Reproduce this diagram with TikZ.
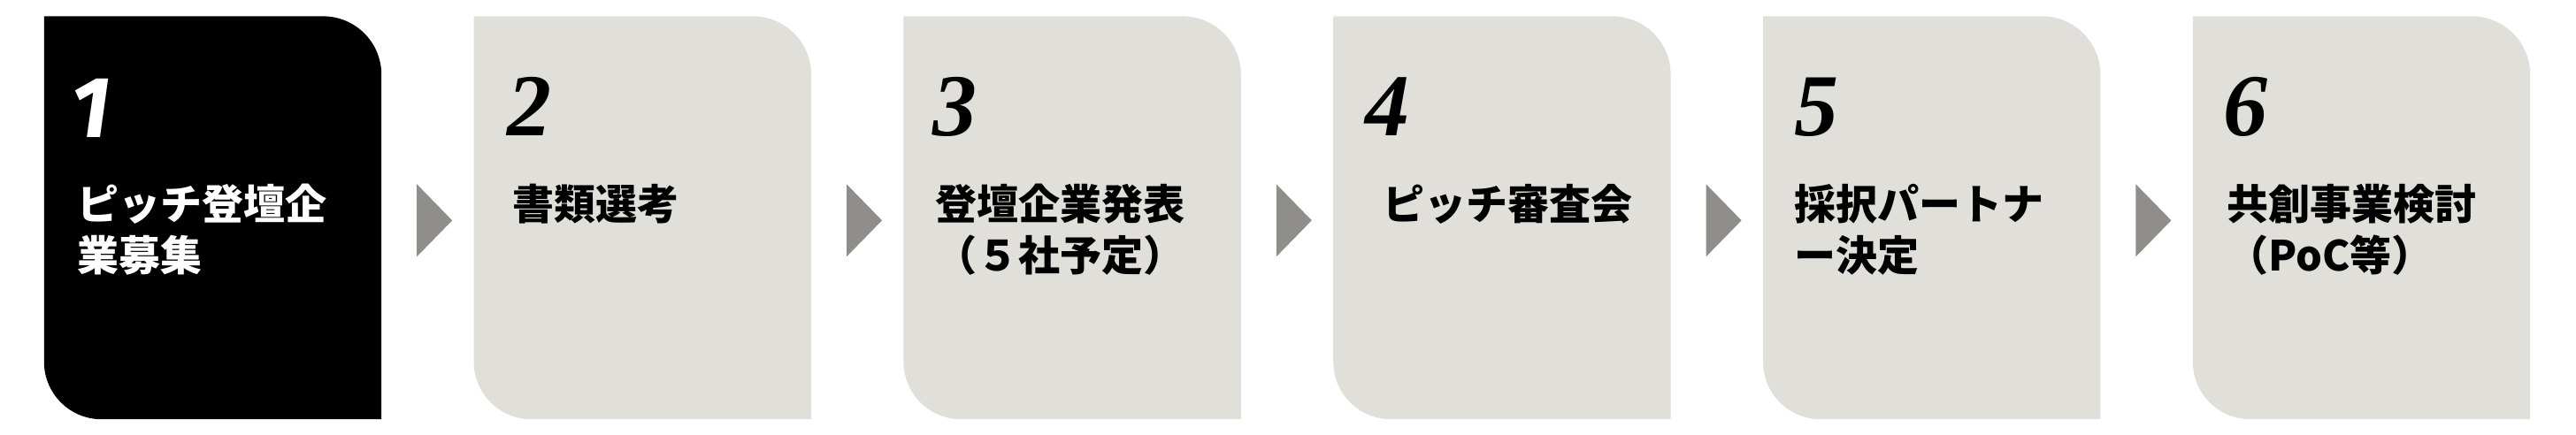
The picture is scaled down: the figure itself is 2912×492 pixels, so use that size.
\documentclass[tikz,border=0pt]{standalone}
\usepackage{fontspec}
\newfontfamily\jpfont{Noto Sans CJK JP}
\newfontfamily\numfont{Liberation Serif}
\newfontfamily\onefont{Fira Sans}
\definecolor{boxgray}{RGB}{224,223,218}
\definecolor{arrowgray}{RGB}{143,142,138}
\tikzset{
  boxframe/.style={rectangle, draw=none, inner sep=0pt, minimum width=381pt, minimum height=455.4pt},
  steptext/.style={anchor=base west, inner sep=0pt, align=left, font=\jpfont\bfseries\fontsize{47}{58}\selectfont},
  stepnum/.style={anchor=base west, inner sep=0pt, font=\numfont\bfseries\itshape\fontsize{100}{100}\selectfont},
  firstnum/.style={anchor=base west, inner sep=0pt, font=\onefont\bfseries\itshape\fontsize{98}{98}\selectfont},
}
\newcommand{\stepshape}[2]{%
  \fill[#2] (#1.north west) -- ([xshift=-66pt]#1.north east)
    arc[start angle=90, end angle=0, radius=66pt] -- (#1.south east)
    -- ([xshift=65pt]#1.south west)
    arc[start angle=270, end angle=180, radius=65pt] -- cycle;}
\newcommand{\steparrow}[1]{%
  \fill[arrowgray] ([xshift=40pt,yshift=38pt]#1.east) -- ([xshift=80pt,yshift=-3pt]#1.east)
    -- ([xshift=40pt,yshift=-44pt]#1.east) -- cycle;}
\begin{document}
\begin{tikzpicture}[x=1pt,y=1pt]
\useasboundingbox (0,0) rectangle (2912,492);
% boxes
\node[boxframe] (box1) at (240.5,245.7) {};
\node[boxframe] (box2) at (726.3,245.7) {};
\node[boxframe] (box3) at (1212.1,245.7) {};
\node[boxframe] (box4) at (1697.9,245.7) {};
\node[boxframe] (box5) at (2183.7,245.7) {};
\node[boxframe] (box6) at (2669.5,245.7) {};
\stepshape{box1}{black}
\stepshape{box2}{boxgray}
\stepshape{box3}{boxgray}
\stepshape{box4}{boxgray}
\stepshape{box5}{boxgray}
\stepshape{box6}{boxgray}
% arrows
\steparrow{box1}
\steparrow{box2}
\steparrow{box3}
\steparrow{box4}
\steparrow{box5}
% numbers
\node[firstnum, text=white] (n1) at ([xshift=30pt]box1.west |- 0,336) {1};
\node[stepnum] (n2) at ([xshift=38pt]box2.west |- 0,338) {2};
\node[stepnum] (n3) at ([xshift=33pt]box3.west |- 0,338) {3};
\node[stepnum] (n4) at ([xshift=36pt]box4.west |- 0,338) {4};
\node[stepnum] (n5) at ([xshift=35pt]box5.west |- 0,338) {5};
\node[stepnum] (n6) at ([xshift=34pt]box6.west |- 0,338) {6};
% texts (base anchor = baseline of the last line)
\node[steptext, text=white] (t1) at ([xshift=37pt]box1.west |- 0,185.5) {ピッチ登壇企\\業募集};
\node[steptext] (t2) at ([xshift=44pt]box2.west |- 0,243.5) {書類選考};
\node[steptext] (t3) at ([xshift=36pt]box3.west |- 0,185.5) {登壇企業発表\\（５社予定）};
\node[steptext] (t4) at ([xshift=56pt]box4.west |- 0,243.5) {ピッチ審査会};
\node[steptext] (t5) at ([xshift=35pt]box5.west |- 0,185.5) {採択パートナ\\ー決定};
\node[steptext] (t6) at ([xshift=38pt]box6.west |- 0,185.5) {共創事業検討\\（PoC等）};
\end{tikzpicture}
\end{document}
